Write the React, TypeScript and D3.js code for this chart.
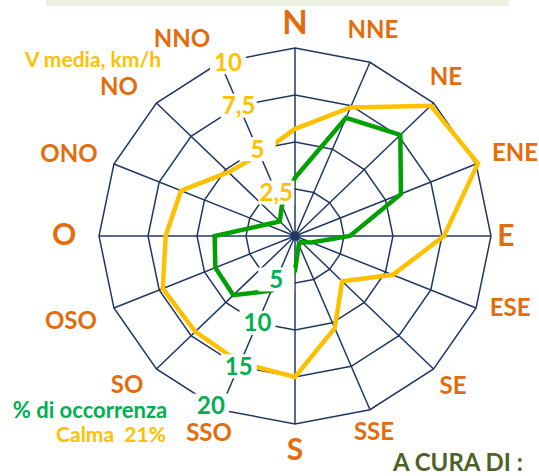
import React, { useEffect, useRef } from "react";
import * as d3 from "d3";

// wind directions, clockwise from north (Italian names)
const directions = ["N", "NNE", "NE", "ENE", "E", "ESE", "SE", "SSE", "S", "SSO", "SO", "OSO", "O", "ONO", "NO", "NNO"];
// mean wind speed, km/h
const speedKmh = [5.7, 7.4, 9.8, 10.1, 7.6, 5.4, 3.4, 5.3, 7.5, 7.3, 7.2, 7.3, 6.6, 6.3, 4.8, 4.7];
// frequency of occurrence, %
const occurrencePct = [6.2, 13.6, 15.2, 11.7, 5.6, 1.8, 0.9, 1.0, 3.7, 6.3, 8.9, 8.8, 8.2, 3.2, 2.2, 3.5];

const speedTicks = [2.5, 5, 7.5, 10];
const speedTickLabels = ["2,5", "5", "7,5", "10"];
const pctTicks = [5, 10, 15, 20];
const pctTickLabels = ["5", "10", "15", "20"];

const speedTitle = "V media, km/h";
const pctTitle = "% di occorrenza";
const calmText = "Calma  21%";
const creditText = "A CURA DI :";

const cardinals = ["N", "E", "S", "O"];

// hand placement tweaks for the direction labels (layout only)
const labelNudge: Record<string, [number, number]> = {
  N: [0, 0], NNE: [-7, -9], NE: [-6, -8], ENE: [15, -2], E: [-11, -1],
  ESE: [10, -11], SE: [1, -2], SSE: [-6, -2], S: [0, -1], SSO: [-1, -1],
  SO: [-11, -3], OSO: [-19, 2], O: [-9, -2], ONO: [-21, -1], NO: [-19, 2], NNO: [-28, 0],
};

const ORANGE = "#E46C0A";
const YELLOW = "#FFC000";
const GREEN_LINE = "#00A000";
const GREEN_TEXT = "#00B050";
const NAVY = "#1F3864";
const FONT = "Lato, 'Open Sans', sans-serif";

function WindRose() {
  const svgRef = useRef<SVGSVGElement>(null);

  useEffect(() => {
    const width = 539, height = 476;
    const cx = 295, cy = 236, RX = 196, RY = 188;
    const svg = d3.select(svgRef.current);
    svg.selectAll("*").remove();

    // banner strip at the top
    svg.append("rect").attr("x", 46).attr("y", -2).attr("width", 463).attr("height", 8).attr("fill", "#EBF1DE");

    const angle = d3.scaleLinear().domain([0, directions.length]).range([0, 2 * Math.PI]);
    const spX = d3.scaleLinear().domain([0, 10]).range([0, RX]);
    const spY = d3.scaleLinear().domain([0, 10]).range([0, RY]);
    const pcX = d3.scaleLinear().domain([0, 20]).range([0, RX]);
    const pcY = d3.scaleLinear().domain([0, 20]).range([0, RY]);

    const pt = (i: number, v: number, sx: any, sy: any): [number, number] => [
      cx + sx(v) * Math.sin(angle(i)),
      cy - sy(v) * Math.cos(angle(i)),
    ];
    const closed = d3.line().curve(d3.curveLinearClosed);

    // grid rings
    const grid = svg.append("g");
    speedTicks.forEach((t) => {
      grid.append("path")
        .attr("d", closed(directions.map((d, i) => pt(i, t, spX, spY))))
        .attr("fill", "none").attr("stroke", NAVY).attr("stroke-width", 1.5);
    });
    // spokes
    directions.forEach((d, i) => {
      const [x, y] = pt(i, 10, spX, spY);
      grid.append("line").attr("x1", cx).attr("y1", cy).attr("x2", x).attr("y2", y)
        .attr("stroke", NAVY).attr("stroke-width", 1.5);
    });
    grid.append("circle").attr("cx", cx).attr("cy", cy).attr("r", 4.5).attr("fill", NAVY);

    // data
    svg.append("path")
      .attr("d", closed(speedKmh.map((v, i) => pt(i, v, spX, spY))))
      .attr("fill", "none").attr("stroke", YELLOW).attr("stroke-width", 4.5).attr("stroke-linejoin", "miter");
    svg.append("path")
      .attr("d", closed(occurrencePct.map((v, i) => pt(i, v, pcX, pcY))))
      .attr("fill", "none").attr("stroke", GREEN_LINE).attr("stroke-width", 4.5).attr("stroke-linejoin", "miter");

    // ring value labels with white boxes
    const ringLabel = (x: number, y: number, txt: string, color: string) => {
      const g = svg.append("g");
      g.append("rect").attr("x", x - 18).attr("y", y - 12).attr("width", 36).attr("height", 24).attr("fill", "white");
      g.append("text").attr("x", x).attr("y", y).attr("dy", "0.36em").attr("text-anchor", "middle")
        .attr("font-family", FONT).attr("font-weight", 700).attr("font-size", 24).attr("fill", color).text(txt);
    };
    const nno = directions.indexOf("NNO");
    speedTicks.forEach((t, k) => {
      const [x, y] = pt(nno, t, spX, spY);
      ringLabel(x + (k === speedTicks.length - 1 ? 8 : 0), y, speedTickLabels[k], YELLOW);
    });
    const sso = directions.indexOf("SSO");
    pctTicks.forEach((t, k) => {
      const [x, y] = pt(sso, t, pcX, pcY);
      ringLabel(x + (k === pctTicks.length - 1 ? -9 : 0), y - (k === pctTicks.length - 1 ? 4 : 0), pctTickLabels[k], GREEN_TEXT);
    });

    // direction labels
    directions.forEach((d, i) => {
      const [bx, by] = [cx + 222 * Math.sin(angle(i)), cy - 214 * Math.cos(angle(i))];
      const [nx, ny] = labelNudge[d];
      const big = cardinals.includes(d);
      svg.append("text").attr("x", bx + nx).attr("y", by + ny).attr("dy", "0.36em")
        .attr("text-anchor", "middle").attr("font-family", FONT).attr("font-weight", 700)
        .attr("font-size", d === "N" ? 33 : big ? 30 : 24).attr("fill", ORANGE).text(d);
    });

    // legend texts
    const txt = (x: number, y: number, s: string, color: string, size: number) =>
      svg.append("text").attr("x", x).attr("y", y).attr("text-anchor", "middle")
        .attr("font-family", FONT).attr("font-weight", 700).attr("font-size", size).attr("fill", color)
        .style("white-space", "pre").text(s);
    txt(93, 67, speedTitle, YELLOW, 21);
    txt(90, 418, pctTitle, GREEN_TEXT, 22);
    txt(111, 442, calmText, YELLOW, 21);
    txt(458, 471, creditText, "#4F6228", 24);

    svg.attr("width", width).attr("height", height);
  }, []);

  return <svg ref={svgRef} width={539} height={476} style={{ position: "absolute", left: 0, top: 0, background: "white" }} />;
}

export default function App() {
  return <WindRose />;
}
